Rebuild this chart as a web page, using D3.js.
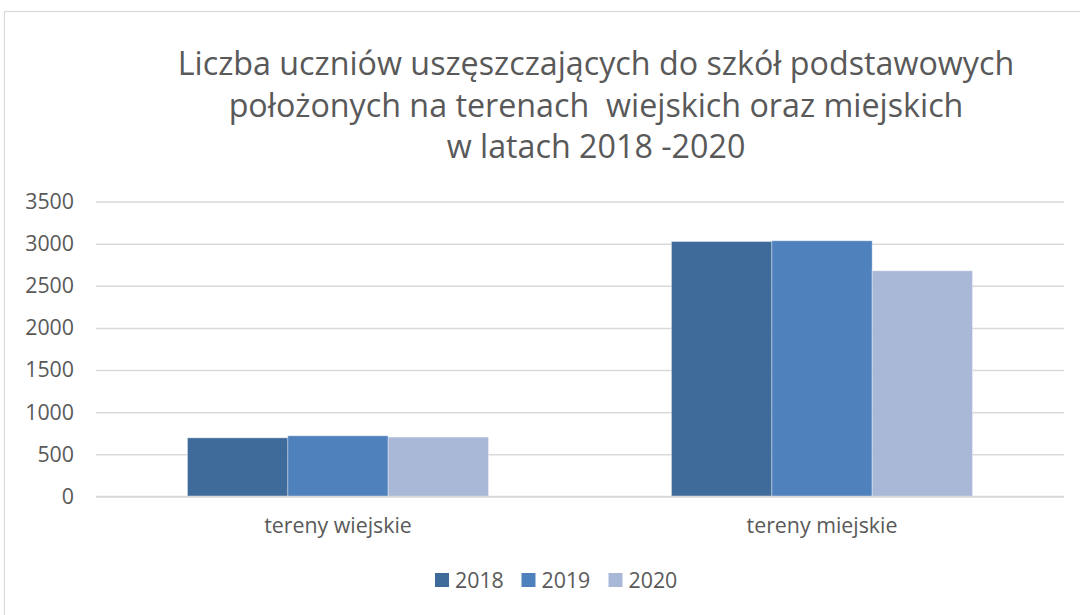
<!DOCTYPE html>
<html>
<head>
<meta charset="utf-8">
<script src="https://cdn.jsdelivr.net/npm/d3@7"></script>
<style>
  html, body { margin: 0; padding: 0; background: #fff; }
  svg { display: block; }
  text { font-family: "Open Sans", "DejaVu Sans", sans-serif; fill: #595959; }
</style>
</head>
<body>
<svg id="chart" width="1080" height="615"></svg>
<script>
const categories = ["tereny wiejskie", "tereny miejskie"];
const years = ["2018", "2019", "2020"];
const values2018 = [696, 3025];
const values2019 = [720, 3034];
const values2020 = [705, 2678];
const yTicks = [0, 500, 1000, 1500, 2000, 2500, 3000, 3500];
const titleLines = [
  "Liczba uczniów uszęszczających do szkół podstawowych",
  "położonych na terenach  wiejskich oraz miejskich",
  "w latach 2018 -2020"
];
const colors = ["#3f6b9b", "#4f81bd", "#a9b8d7"];

const seriesValues = [values2018, values2019, values2020];
const data = categories.map((c, i) => ({
  category: c,
  values: years.map((y, j) => ({ year: y, value: seriesValues[j][i] }))
}));

const svg = d3.select("#chart");

// outer frame
svg.append("rect")
  .attr("x", 4.5).attr("y", 11.5)
  .attr("width", 1200).attr("height", 800)
  .attr("fill", "none").attr("stroke", "#d9d9d9").attr("stroke-width", 1.2);

// Title, scaled to fit the reference width
const title = svg.append("g");
const titleBaselines = [75, 116.5, 158];
title.selectAll("text").data(titleLines).join("text")
  .attr("x", 596)
  .attr("y", (d, i) => titleBaselines[i])
  .attr("text-anchor", "middle")
  .style("white-space", "pre")
  .style("font-size", "34px")
  .text(d => d);
const w0 = title.select("text").node().getComputedTextLength();
const scale = 837 / w0;
title.selectAll("text").style("font-size", (34 * scale) + "px");

const fs = 22.5 * scale;

const plotLeft = 96, plotRight = 1064, plotTop = 201.5, plotBottom = 496.5;

const y = d3.scaleLinear().domain([0, 3500]).range([plotBottom, plotTop]);
const x0 = d3.scaleBand().domain(categories).range([plotLeft, plotRight])
  .paddingInner(0.378).paddingOuter(0.189);
const x1 = d3.scaleBand().domain(years).range([0, x0.bandwidth()]).padding(0);
const color = d3.scaleOrdinal().domain(years).range(colors);

// gridlines
const yAxis = d3.axisLeft(y).tickValues(yTicks).tickSize(-(plotRight - plotLeft)).tickPadding(22).tickFormat(d3.format("d"));
const gy = svg.append("g").attr("transform", `translate(${plotLeft},0)`).call(yAxis);
gy.select(".domain").remove();
gy.selectAll(".tick line").attr("stroke", "#d9d9d9").attr("stroke-width", 1.5);
gy.selectAll(".tick text").style("font-size", fs + "px").attr("fill", "#595959").attr("font-family", null);

// bars
const groups = svg.append("g").selectAll("g").data(data).join("g")
  .attr("transform", d => `translate(${x0(d.category)},0)`);
groups.selectAll("rect").data(d => d.values).join("rect")
  .attr("x", d => x1(d.year))
  .attr("y", d => y(d.value))
  .attr("width", x1.bandwidth())
  .attr("height", d => y(0) - y(d.value))
  .attr("fill", d => color(d.year))
  .attr("stroke", "#ffffff").attr("stroke-opacity", 0.35).attr("stroke-width", 1);

// x axis
const xAxis = d3.axisBottom(x0).tickSize(0).tickPadding(0);
const gx = svg.append("g").attr("transform", `translate(0,${plotBottom})`).call(xAxis);
gx.select(".domain").attr("stroke", "#d9d9d9").attr("stroke-width", 1.5)
  .attr("d", `M${plotLeft},0H${plotRight}`);
gx.selectAll(".tick text").attr("y", 36.5).attr("dy", null)
  .style("font-size", fs + "px").attr("fill", "#595959").attr("font-family", null);

// legend
const legendSquareX = [435, 521.5, 608.5];
const legendTextX = [455, 541.5, 628.5];
const legend = svg.append("g");
years.forEach((yr, i) => {
  legend.append("rect")
    .attr("x", legendSquareX[i]).attr("y", 573)
    .attr("width", 14).attr("height", 14)
    .attr("fill", color(yr));
  legend.append("text")
    .attr("x", legendTextX[i]).attr("y", 588)
    .style("font-size", fs + "px")
    .text(yr);
});
</script>
</body>
</html>
